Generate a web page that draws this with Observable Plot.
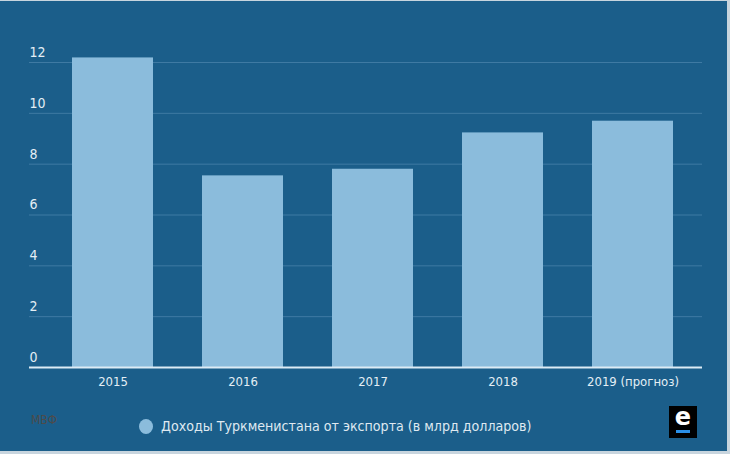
<!DOCTYPE html>
<html>
<head>
<meta charset="utf-8">
<script src="https://cdn.jsdelivr.net/npm/d3@7"></script>
<script src="https://cdn.jsdelivr.net/npm/@observablehq/plot@0.6"></script>
<style>
  html, body { margin: 0; padding: 0; background: #c8d5de; }
  #wrap { position: relative; width: 727px; height: 450px; margin-top: 1px; background: #1b5e8a; overflow: hidden;
    font-family: "Liberation Sans Narrow", "DejaVu Sans Condensed", "Roboto", sans-serif; }
  #chart { position: absolute; left: 0; top: 0; }
  #source { position: absolute; left: 31px; top: 412px; font-size: 12px; color: #4d4b4a; }
  #legend { position: absolute; left: 139px; top: 417px; display: flex; align-items: center; color: #dfe9f1; font-size: 14.1px; }
  #legend .dot { width: 14px; height: 15px; border-radius: 50%; background: #8bbcdc; margin-right: 8px; }
  #logo { position: absolute; left: 669px; top: 405px; width: 28px; height: 32px; background: #000; }
  #logo span { position: absolute; left: 0; width: 28px; top: -3px; text-align: center; color: #fff; font: bold 24px "DejaVu Sans", sans-serif; }
  #logo i { position: absolute; left: 7px; top: 24px; width: 14px; height: 3px; background: #2a90e8; }
</style>
</head>
<body>
<div id="wrap">
  <div id="chart"></div>
  <div id="source">МВФ</div>
  <div id="legend"><div class="dot"></div><span>Доходы Туркменистана от экспорта (в млрд долларов)</span></div>
  <div id="logo"><span>e</span><i></i></div>
</div>
<script>
const years = ["2015", "2016", "2017", "2018", "2019 (прогноз)"];
const revenue = [12.18, 7.54, 7.8, 9.23, 9.69];
const yTicks = [0, 2, 4, 6, 8, 10, 12];

const data = years.map((y, i) => ({year: y, value: revenue[i]}));

const chart = Plot.plot({
  width: 727,
  height: 400,
  marginLeft: 29,
  marginRight: 25,
  marginTop: 61,
  marginBottom: 34,
  style: { background: "transparent", fontFamily: "\"Liberation Sans Narrow\", \"DejaVu Sans Condensed\", sans-serif" },
  x: { domain: years, range: [21, 724], padding: 0.38, axis: null },
  y: { domain: [0, 12], axis: null },
  marks: [
    Plot.ruleY(yTicks.filter(d => d > 0), { stroke: "#3f7aa3", strokeWidth: 1 }),
    Plot.barY(data, { x: "year", y: "value", fill: "#8bbcdc" }),
    Plot.ruleY([0], { stroke: "#dcebf5", strokeWidth: 2 }),
    Plot.text(yTicks, { y: d => d, text: d => String(d), frameAnchor: "left", textAnchor: "start", dy: -10, fill: "#e4eef5", fontSize: 14 }),
    Plot.axisX({ tickSize: 0, tickPadding: 9, fontSize: 13, color: "#e4eef5", label: null })
  ]
});
document.getElementById("chart").appendChild(chart);
</script>
</body>
</html>
